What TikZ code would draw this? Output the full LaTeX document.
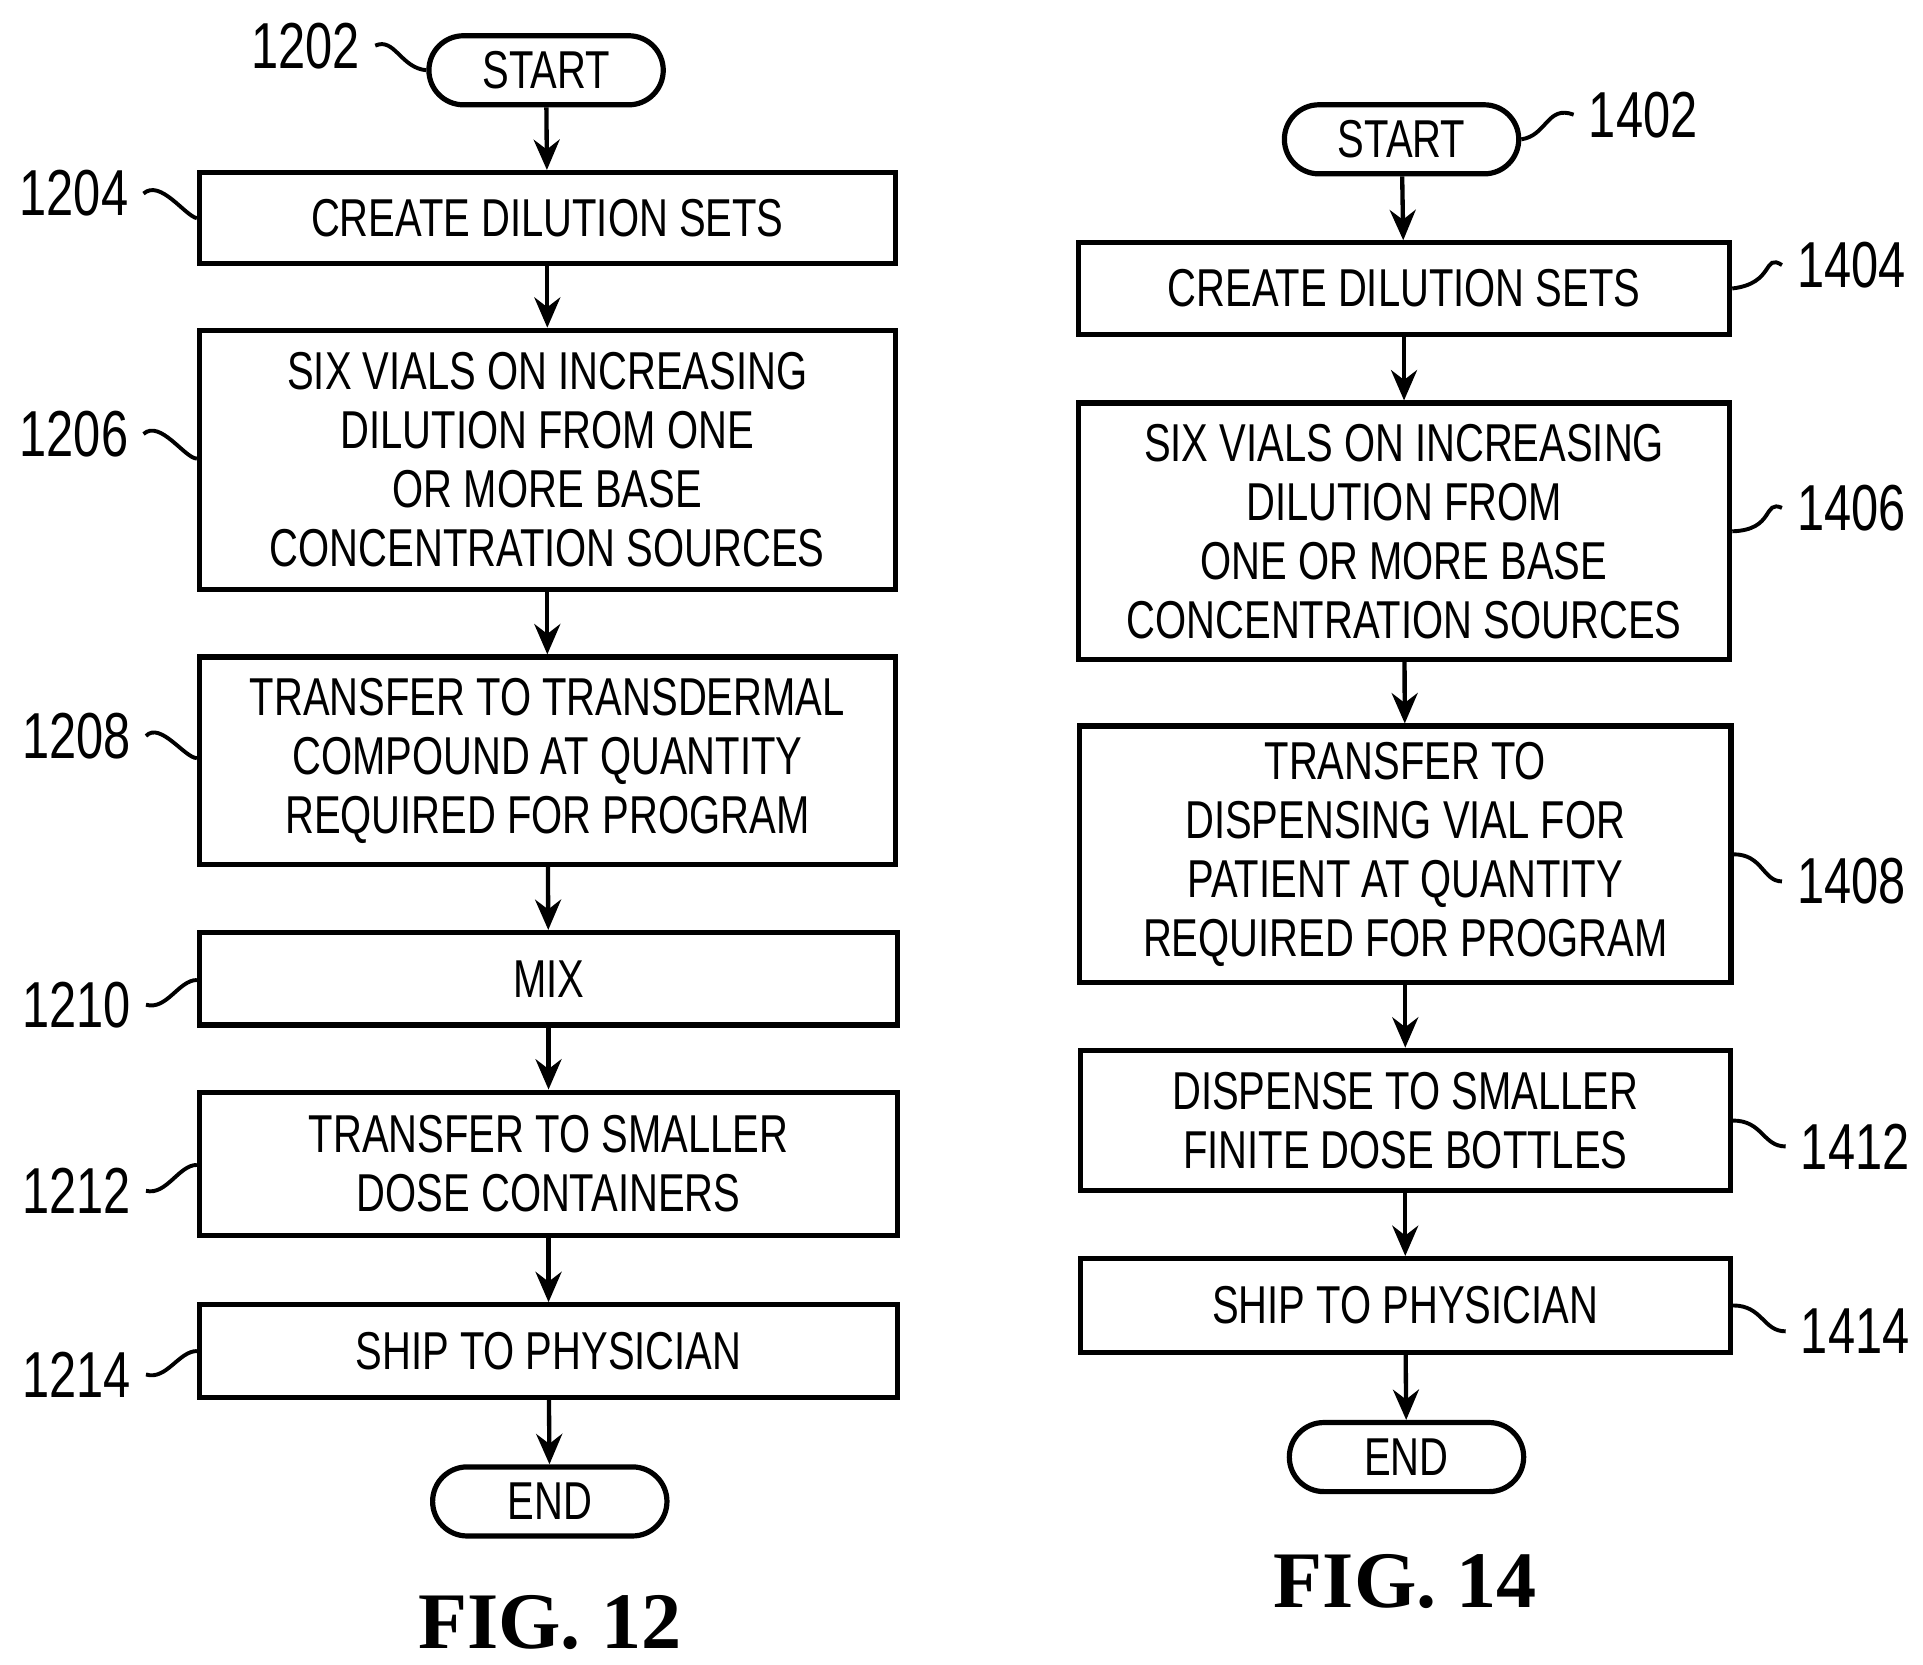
\documentclass[tikz,border=0pt]{standalone}
\usepackage{fontspec}
\setmainfont{Liberation Sans}[FakeStretch=0.75]
\newfontfamily\figfont{Liberation Serif}
\usetikzlibrary{arrows.meta}
\begin{document}
\begin{tikzpicture}[x=0.01cm,y=-0.01cm,
 box/.style={draw,line width=1.2pt,align=center,inner sep=0pt,font=\fontsize{12.3}{13.6}\selectfont},
 term/.style={box,rounded corners=0.28cm,minimum width=1.9cm,minimum height=0.56cm},
 num/.style={font=\fontsize{15}{18}\selectfont},
 fig/.style={font=\figfont\bfseries\fontsize{18.5}{22}\selectfont},
 arr/.style={-{Stealth[length=7pt,width=6pt]},line width=1pt},
 lead/.style={line width=0.9pt}]
\useasboundingbox (0,0) rectangle (1560,1350);
% FIG 12
\node[term] (s1) at (443,57) {START};
\node[box,minimum width=5.64cm,minimum height=0.74cm] (a1) at (444,177) {CREATE DILUTION SETS};
\node[box,minimum width=5.64cm,minimum height=2.1cm] (a2) at (444,373) {SIX VIALS ON INCREASING\\DILUTION FROM ONE\\OR MORE BASE\\CONCENTRATION SOURCES};
\node[box,minimum width=5.64cm,minimum height=1.68cm] (a3) at (444,617) {TRANSFER TO TRANSDERMAL\\COMPOUND AT QUANTITY\\REQUIRED FOR PROGRAM};
\node[box,minimum width=5.66cm,minimum height=0.75cm] (a4) at (445,794) {MIX};
\node[box,minimum width=5.66cm,minimum height=1.16cm] (a5) at (445,944) {TRANSFER TO SMALLER\\DOSE CONTAINERS};
\node[box,minimum width=5.66cm,minimum height=0.75cm] (a6) at (445,1096) {SHIP TO PHYSICIAN};
\node[term] (e1) at (446,1218) {END};
\node[fig] (f12) at (446,1316) {FIG. 12};
\foreach \u/\v in {s1/a1,a1/a2,a2/a3,a3/a4,a4/a5,a5/a6,a6/e1} \draw[arr] (\u) -- (\v);
\node[num] (n1202) at (248,37) {1202};
\node[num] (n1204) at (60,157) {1204};
\node[num] (n1206) at (60,352) {1206};
\node[num] (n1208) at (62,597) {1208};
\node[num] (n1210) at (62,815) {1210};
\node[num] (n1212) at (62,966) {1212};
\node[num] (n1214) at (62,1115) {1214};
\draw[lead] (n1202.east) .. controls (320,30) and (325,55) .. (s1.west);
\draw[lead] (n1204.east) .. controls (130,145) and (150,175) .. (a1.west|-0,177);
\draw[lead] (n1206.east) .. controls (130,340) and (150,372) .. (a2.west|-0,372);
\draw[lead] (n1208.east) .. controls (130,585) and (150,615) .. (a3.west|-0,615);
\draw[lead] (n1210.east) .. controls (135,820) and (145,795) .. (a4.west|-0,795);
\draw[lead] (n1212.east) .. controls (135,970) and (145,945) .. (a5.west|-0,945);
\draw[lead] (n1214.east) .. controls (135,1120) and (145,1096) .. (a6.west|-0,1096);
% FIG 14
\node[term] (s2) at (1137,113) {START};
\node[box,minimum width=5.28cm,minimum height=0.74cm] (b1) at (1139,234) {CREATE DILUTION SETS};
\node[box,minimum width=5.28cm,minimum height=2.08cm] (b2) at (1139,431) {SIX VIALS ON INCREASING\\DILUTION FROM\\ONE OR MORE BASE\\CONCENTRATION SOURCES};
\node[box,minimum width=5.28cm,minimum height=2.08cm] (b3) at (1140,693) {TRANSFER TO\\DISPENSING VIAL FOR\\PATIENT AT QUANTITY\\REQUIRED FOR PROGRAM};
\node[box,minimum width=5.27cm,minimum height=1.14cm] (b4) at (1140,909) {DISPENSE TO SMALLER\\FINITE DOSE BOTTLES};
\node[box,minimum width=5.27cm,minimum height=0.76cm] (b5) at (1140,1059) {SHIP TO PHYSICIAN};
\node[term] (e2) at (1141,1182) {END};
\node[fig] (f14) at (1140,1283) {FIG. 14};
\foreach \u/\v in {s2/b1,b1/b2,b2/b3,b3/b4,b4/b5,b5/e2} \draw[arr] (\u) -- (\v);
\node[num] (n1402) at (1333,93) {1402};
\node[num] (n1404) at (1502,215) {1404};
\node[num] (n1406) at (1502,412) {1406};
\node[num] (n1408) at (1502,715) {1408};
\node[num] (n1412) at (1505,930) {1412};
\node[num] (n1414) at (1505,1080) {1414};
\draw[lead] (s2.east) .. controls (1255,110) and (1255,85) .. (n1402.west);
\draw[lead] (b1.east|-0,234) .. controls (1440,230) and (1430,205) .. (n1404.west);
\draw[lead] (b2.east|-0,431) .. controls (1440,430) and (1430,405) .. (n1406.west);
\draw[lead] (b3.east|-0,693) .. controls (1430,693) and (1430,715) .. (n1408.west);
\draw[lead] (b4.east|-0,909) .. controls (1430,909) and (1430,930) .. (n1412.west);
\draw[lead] (b5.east|-0,1059) .. controls (1430,1059) and (1430,1080) .. (n1414.west);
\end{tikzpicture}
\end{document}
